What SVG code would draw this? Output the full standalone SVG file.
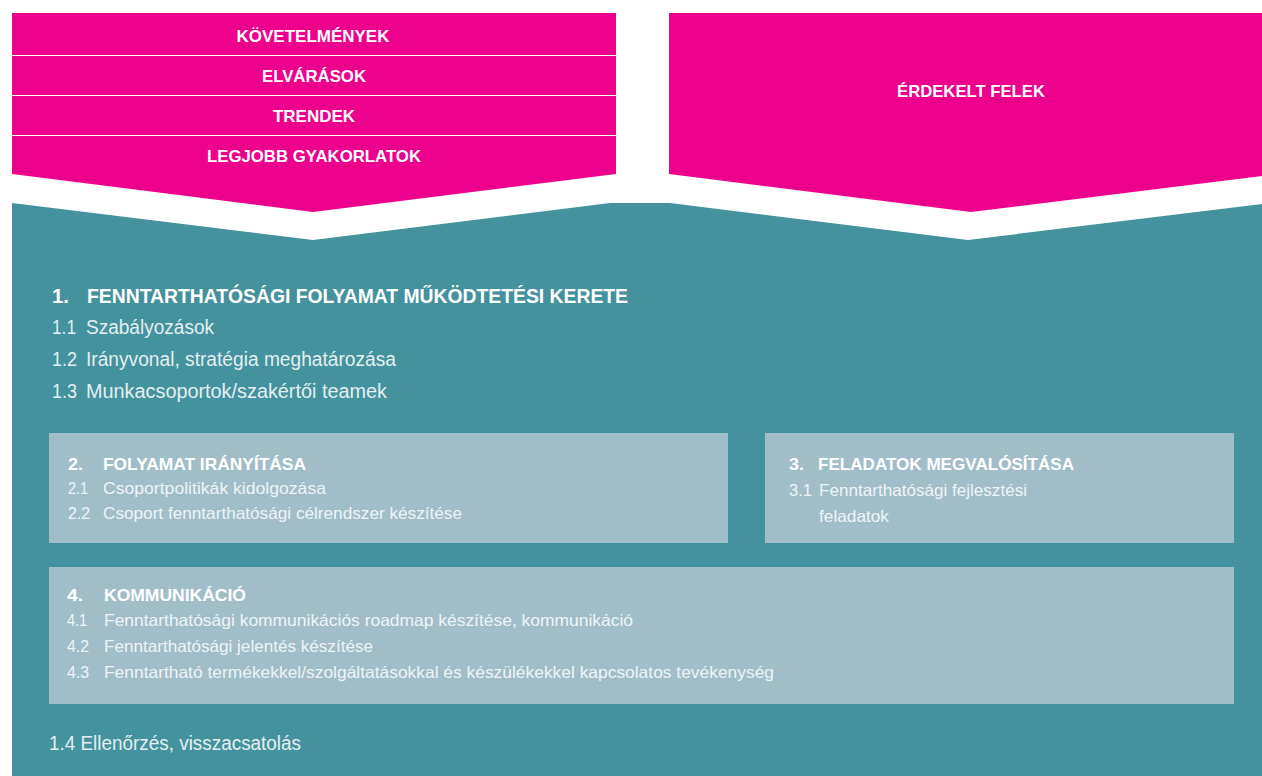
<svg xmlns="http://www.w3.org/2000/svg" width="1262" height="776" viewBox="0 0 1262 776">
<style>
.pk{fill:#ec008c}
.sep{stroke:#ffffff;stroke-width:1.2}
.pt{font-family:"Liberation Sans",Arial,sans-serif;font-weight:bold;font-size:17px;fill:#ffffff;text-anchor:middle}
.h1{font-family:"Liberation Sans",Arial,sans-serif;font-weight:bold;font-size:20.5px;fill:#ffffff}
.s1{font-family:"Liberation Sans",Arial,sans-serif;font-size:19.5px;fill:#e3eff1}
.box{fill:#a1bec8}
.h2{font-family:"Liberation Sans",Arial,sans-serif;font-weight:bold;font-size:17px;fill:#ffffff}
.s2{font-family:"Liberation Sans",Arial,sans-serif;font-size:16.5px;fill:#eef4f6}
</style>
<rect width="1262" height="776" fill="#ffffff"/>
<g id="teal">
<polygon points="12,203 313,240 610,203 670,203 968,240 1262,204 1262,776 12,776" fill="#44929e"/>
</g>
<g id="inputs">
<polygon class="pk" points="12,13 616,13 616,174 313,212 12,174"/>
<line class="sep" x1="12" y1="55.5" x2="616" y2="55.5"/>
<line class="sep" x1="12" y1="95.5" x2="616" y2="95.5"/>
<line class="sep" x1="12" y1="135.5" x2="616" y2="135.5"/>
<text class="pt" x="313" y="42" textLength="153" lengthAdjust="spacingAndGlyphs">KÖVETELMÉNYEK</text>
<text class="pt" x="314" y="82" textLength="104" lengthAdjust="spacingAndGlyphs">ELVÁRÁSOK</text>
<text class="pt" x="314" y="122" textLength="82" lengthAdjust="spacingAndGlyphs">TRENDEK</text>
<text class="pt" x="314" y="162" textLength="214" lengthAdjust="spacingAndGlyphs">LEGJOBB GYAKORLATOK</text>
</g>
<g id="stakeholders">
<polygon class="pk" points="669,13 1262,13 1262,176 971,212 669,174"/>
<text class="pt" x="971" y="97" textLength="148" lengthAdjust="spacingAndGlyphs">ÉRDEKELT FELEK</text>
</g>
<g id="section1">
<text class="h1" x="52" y="303" textLength="17" lengthAdjust="spacingAndGlyphs">1.</text>
<text class="h1" x="87" y="303" textLength="541" lengthAdjust="spacingAndGlyphs">FENNTARTHATÓSÁGI FOLYAMAT MŰKÖDTETÉSI KERETE</text>
<text class="s1" x="52" y="334" textLength="24" lengthAdjust="spacingAndGlyphs">1.1</text>
<text class="s1" x="86" y="334" textLength="128" lengthAdjust="spacingAndGlyphs">Szabályozások</text>
<text class="s1" x="52" y="366" textLength="25" lengthAdjust="spacingAndGlyphs">1.2</text>
<text class="s1" x="86" y="366" textLength="310" lengthAdjust="spacingAndGlyphs">Irányvonal, stratégia meghatározása</text>
<text class="s1" x="52" y="398" textLength="25" lengthAdjust="spacingAndGlyphs">1.3</text>
<text class="s1" x="86" y="398" textLength="301" lengthAdjust="spacingAndGlyphs">Munkacsoportok/szakértői teamek</text>
<text class="s1" x="49" y="750" textLength="252" lengthAdjust="spacingAndGlyphs">1.4 Ellenőrzés, visszacsatolás</text>
</g>
<g id="box2">
<rect class="box" x="49" y="433" width="679" height="110"/>
<text class="h2" x="68" y="470" textLength="15" lengthAdjust="spacingAndGlyphs">2.</text>
<text class="h2" x="103" y="470" textLength="203" lengthAdjust="spacingAndGlyphs">FOLYAMAT IRÁNYÍTÁSA</text>
<text class="s2" x="68" y="494" textLength="20" lengthAdjust="spacingAndGlyphs">2.1</text>
<text class="s2" x="103" y="494" textLength="223" lengthAdjust="spacingAndGlyphs">Csoportpolitikák kidolgozása</text>
<text class="s2" x="68" y="519" textLength="22" lengthAdjust="spacingAndGlyphs">2.2</text>
<text class="s2" x="103" y="519" textLength="359" lengthAdjust="spacingAndGlyphs">Csoport fenntarthatósági célrendszer készítése</text>
</g>
<g id="box3">
<rect class="box" x="765" y="433" width="469" height="110"/>
<text class="h2" x="789" y="470" textLength="15" lengthAdjust="spacingAndGlyphs">3.</text>
<text class="h2" x="818" y="470" textLength="256" lengthAdjust="spacingAndGlyphs">FELADATOK MEGVALÓSÍTÁSA</text>
<text class="s2" x="789" y="496" textLength="23" lengthAdjust="spacingAndGlyphs">3.1</text>
<text class="s2" x="819" y="496" textLength="208" lengthAdjust="spacingAndGlyphs">Fenntarthatósági fejlesztési</text>
<text class="s2" x="819" y="522" textLength="70" lengthAdjust="spacingAndGlyphs">feladatok</text>
</g>
<g id="box4">
<rect class="box" x="49" y="567" width="1185" height="137"/>
<text class="h2" x="67" y="601" textLength="16" lengthAdjust="spacingAndGlyphs">4.</text>
<text class="h2" x="104" y="601" textLength="142" lengthAdjust="spacingAndGlyphs">KOMMUNIKÁCIÓ</text>
<text class="s2" x="67" y="626" textLength="20" lengthAdjust="spacingAndGlyphs">4.1</text>
<text class="s2" x="104" y="626" textLength="529" lengthAdjust="spacingAndGlyphs">Fenntarthatósági kommunikációs roadmap készítése, kommunikáció</text>
<text class="s2" x="67" y="652" textLength="22" lengthAdjust="spacingAndGlyphs">4.2</text>
<text class="s2" x="104" y="652" textLength="269" lengthAdjust="spacingAndGlyphs">Fenntarthatósági jelentés készítése</text>
<text class="s2" x="67" y="678" textLength="22" lengthAdjust="spacingAndGlyphs">4.3</text>
<text class="s2" x="104" y="678" textLength="670" lengthAdjust="spacingAndGlyphs">Fenntartható termékekkel/szolgáltatásokkal és készülékekkel kapcsolatos tevékenység</text>
</g>
<g id="connectors"/>
</svg>
